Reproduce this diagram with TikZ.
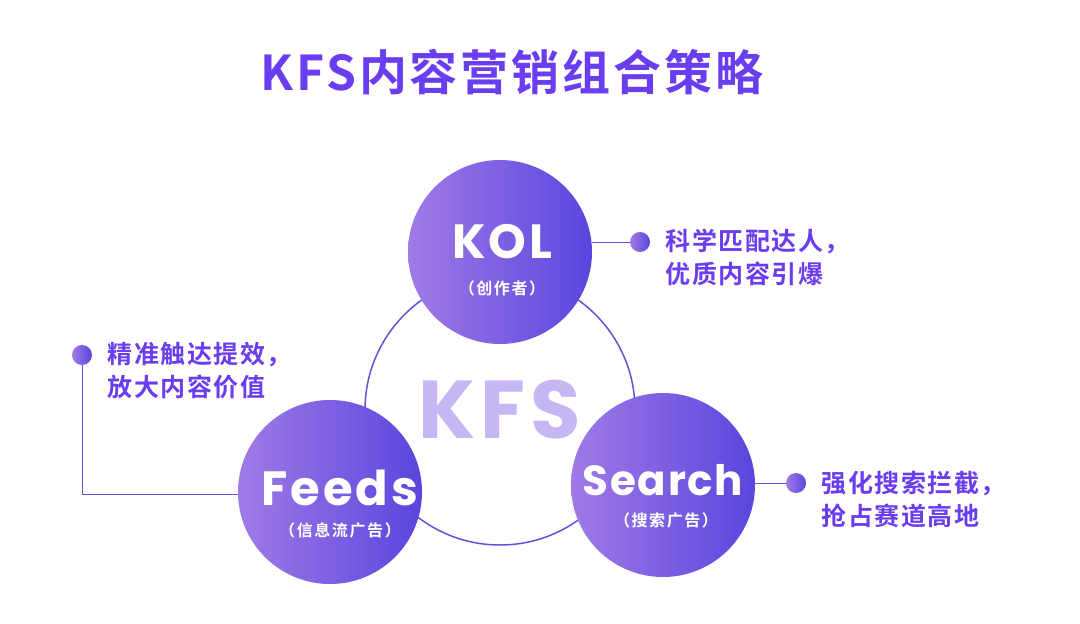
\documentclass[tikz,border=0pt]{standalone}
\usepackage{fontspec}
\setmainfont{Noto Sans CJK SC}
\newfontfamily\cjkb{Noto Sans CJK SC Bold}
\newfontfamily\latb{Poppins Bold}
\definecolor{tpurple}{HTML}{6A3DF0}
\definecolor{lpurple}{HTML}{A07AE6}
\definecolor{dpurple}{HTML}{5A46DE}
\definecolor{kfsc}{HTML}{C6B6F4}
\definecolor{linec}{HTML}{6A4FD8}
\begin{document}
\begin{tikzpicture}[x=1pt,y=-1pt,
  ball/.style={circle,minimum size=184pt,inner sep=0pt,left color=lpurple,right color=dpurple,shading angle=90},
  dotc/.style={circle,minimum size=20pt,inner sep=0pt,left color=lpurple,right color=dpurple},
  big/.style={text=white,font=\latb\addfontfeatures{LetterSpace=6}\fontsize{48}{48}\selectfont},
  small/.style={text=white,font=\cjkb\addfontfeatures{LetterSpace=10}\fontsize{16}{16}\selectfont},
  desc/.style={text=tpurple,font=\cjkb\addfontfeatures{LetterSpace=6}\fontsize{25}{33}\selectfont,align=left,anchor=west},
  conn/.style={draw=linec,line width=1pt}]
\useasboundingbox[fill=white] (0,0) rectangle (1080,624);
\node[text=tpurple,font=\cjkb\addfontfeatures{LetterSpace=6}\fontsize{48}{48}\selectfont] (title) at (512,72) {KFS内容营销组合策略};
\node[circle,draw=linec,line width=1.5pt,minimum size=270pt] (ring) at (500,410) {};
\node[text=kfsc,font=\latb\addfontfeatures{LetterSpace=6}\fontsize{82}{82}\selectfont] (kfs) at (500,410) {KFS};
\node[ball] (kol) at (500,252) {};
\node[ball] (feeds) at (330,492) {};
\node[ball] (search) at (663,485) {};
\node[big] (kolt) at (502,242) {KOL};
\node[small] (kols) at (502,288) {（创作者）};
\node[big] (feedst) at (340,488) {Feeds};
\node[small] (feedss) at (340,530) {（信息流广告）};
\node[big,font=\latb\addfontfeatures{LetterSpace=4}\fontsize{42}{42}\selectfont] (searcht) at (663,480) {Search};
\node[small] (searchs) at (666,520) {（搜索广告）};
\node[dotc] (d1) at (640,242) {};
\node[dotc] (d2) at (82,355) {};
\node[dotc] (d3) at (796,483) {};
\draw[conn] (kol.east |- d1) -- (d1);
\draw[conn] (d2) -- (82,494) -- (feeds.west |- 0,494);
\draw[conn] (search.east |- d3) -- (d3);
\node[desc] (t1) at (662,257) {科学匹配达人，\\优质内容引爆};
\node[desc] (t2) at (104,371) {精准触达提效，\\放大内容价值};
\node[desc] (t3) at (818,499) {强化搜索拦截，\\抢占赛道高地};
\end{tikzpicture}
\end{document}
